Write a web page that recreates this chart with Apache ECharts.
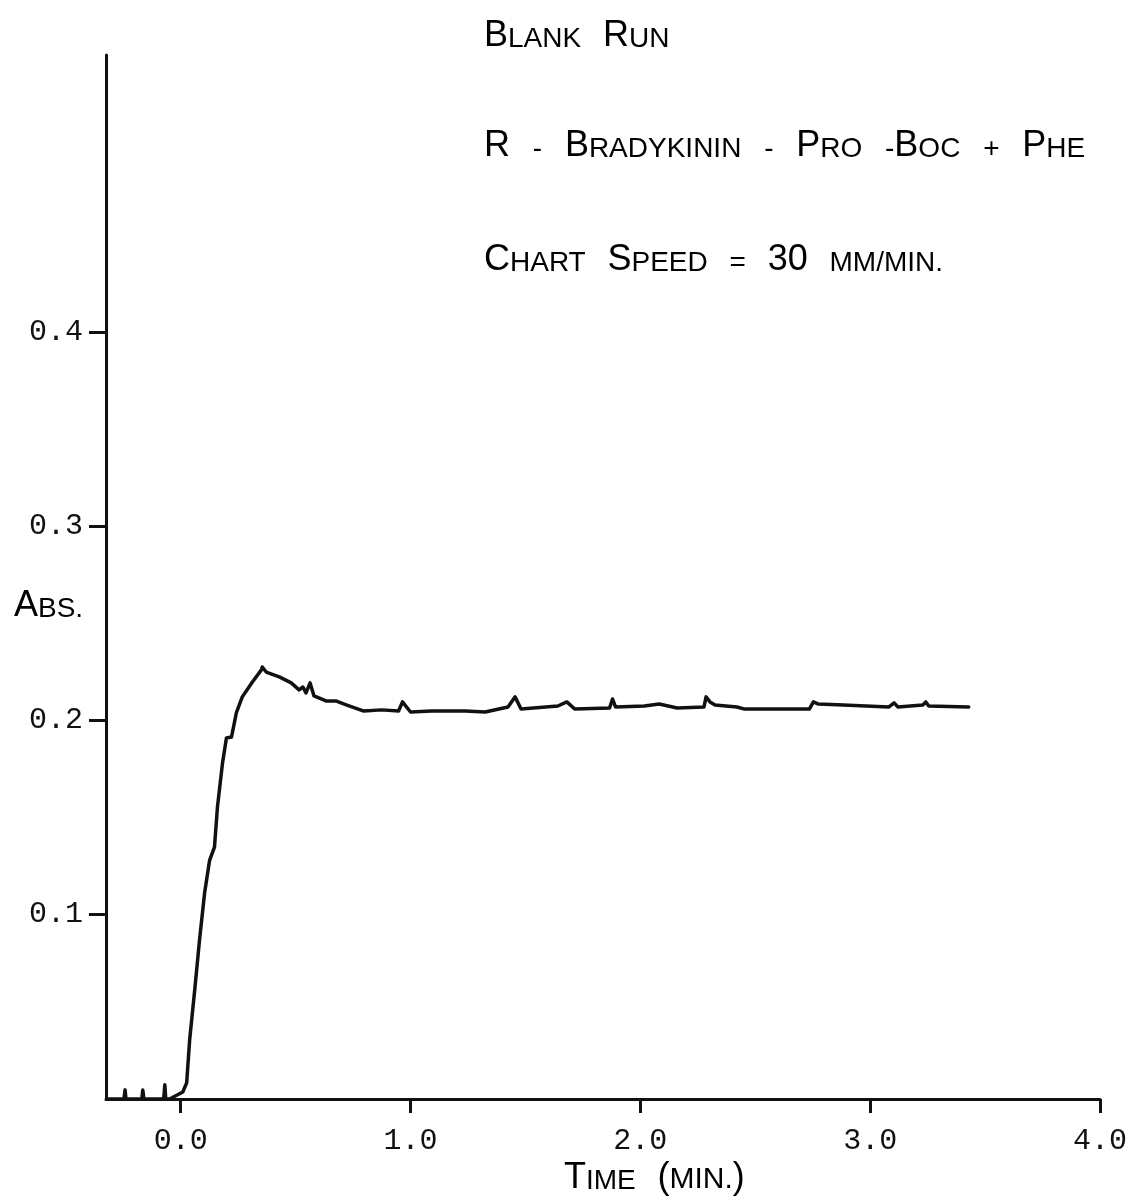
<!DOCTYPE html>
<html>
<head>
<meta charset="utf-8">
<script src="https://cdn.jsdelivr.net/npm/echarts@6/dist/echarts.min.js"></script>
<style>
html,body{margin:0;padding:0;background:#fff;}
#chart{width:1130px;height:1202px;}
</style>
</head>
<body>
<div id="chart"></div>
<script>
// ---- data ----
const timeMin = [
  -0.320, -0.247, -0.242, -0.238, -0.169, -0.165, -0.160, -0.074, -0.069, -0.065,
  -0.048, 0.009, 0.026, 0.039, 0.061, 0.082, 0.104, 0.126, 0.147, 0.160,
  0.182, 0.199, 0.221, 0.242, 0.268, 0.312, 0.351, 0.355, 0.372, 0.429,
  0.481, 0.515, 0.532, 0.545, 0.563, 0.580, 0.632, 0.675, 0.723, 0.797,
  0.874, 0.948, 0.965, 1.000, 1.091, 1.238, 1.325, 1.424, 1.455, 1.481,
  1.641, 1.680, 1.714, 1.866, 1.879, 1.892, 2.017, 2.082, 2.160, 2.277,
  2.286, 2.303, 2.325, 2.420, 2.450, 2.736, 2.753, 2.775, 2.883, 3.082,
  3.104, 3.121, 3.229, 3.242, 3.255, 3.429
];
const absorbance = [
  0.0046, 0.0046, 0.0093, 0.0046, 0.0046, 0.0093, 0.0046, 0.0046, 0.0119, 0.0046,
  0.0046, 0.0082, 0.0129, 0.0351, 0.0608, 0.0866, 0.1108, 0.1278, 0.1345, 0.1552,
  0.1778, 0.1907, 0.1912, 0.2036, 0.2119, 0.2196, 0.2258, 0.2273, 0.2247, 0.2222,
  0.2191, 0.2155, 0.2170, 0.2139, 0.2191, 0.2124, 0.2098, 0.2098, 0.2077, 0.2046,
  0.2052, 0.2046, 0.2093, 0.2041, 0.2046, 0.2046, 0.2041, 0.2067, 0.2119, 0.2057,
  0.2072, 0.2093, 0.2057, 0.2062, 0.2108, 0.2067, 0.2072, 0.2082, 0.2062, 0.2067,
  0.2119, 0.2093, 0.2077, 0.2067, 0.2057, 0.2057, 0.2093, 0.2082, 0.2077, 0.2067,
  0.2088, 0.2067, 0.2077, 0.2093, 0.2072, 0.2067
];
const xTicks = [0, 1, 2, 3, 4];
const yTicks = [0.1, 0.2, 0.3, 0.4];

const seriesData = timeMin.map((t, i) => [t, absorbance[i]]);

const SANS = '"Liberation Sans", "DejaVu Sans", sans-serif';
const MONO = '"Liberation Mono", "DejaVu Sans Mono", monospace';
const capRich = {
  c: { fontFamily: SANS, fontSize: 36, color: '#111', verticalAlign: 'bottom', lineHeight: 40 },
  s: { fontFamily: SANS, fontSize: 28, color: '#111', verticalAlign: 'bottom', lineHeight: 40, padding: [0, 0, 1, 0] },
  m: { fontFamily: SANS, fontSize: 30, color: '#111', verticalAlign: 'bottom', lineHeight: 40, padding: [0, 0, 1, 0] },
  g: { fontFamily: SANS, fontSize: 28, color: '#111', verticalAlign: 'bottom', lineHeight: 40, padding: [0, 7, 1, 7] },
  w: { fontFamily: SANS, fontSize: 28, color: '#111', verticalAlign: 'bottom', lineHeight: 40, padding: [0, 7.5, 1, 7.5] }
};

const chart = echarts.init(document.getElementById('chart'), null, { renderer: 'canvas' });
chart.setOption({
  animation: false,
  backgroundColor: '#fff',
  grid: { left: 106, right: 25, top: 55, bottom: 103, containLabel: false },
  xAxis: {
    type: 'value',
    min: -0.325,
    max: 4.0,
    axisLine: { show: true, lineStyle: { color: '#111', width: 3 } },
    axisTick: { show: true, customValues: xTicks, length: 14, inside: false, lineStyle: { color: '#111', width: 3 } },
    axisLabel: {
      customValues: xTicks,
      formatter: v => v.toFixed(1),
      fontFamily: MONO, fontSize: 30, color: '#111', margin: 27
    },
    splitLine: { show: false }
  },
  yAxis: {
    type: 'value',
    min: 0.0046,
    max: 0.5428,
    axisLine: { show: true, onZero: false, lineStyle: { color: '#111', width: 3 } },
    axisTick: { show: true, customValues: yTicks, length: 17, lineStyle: { color: '#111', width: 3 } },
    axisLabel: {
      customValues: yTicks,
      formatter: v => v.toFixed(1),
      fontFamily: MONO, fontSize: 30, color: '#111', margin: 23
    },
    splitLine: { show: false }
  },
  series: [{
    type: 'line',
    data: seriesData,
    showSymbol: false,
    symbol: 'none',
    smooth: false,
    lineStyle: { color: '#111', width: 3.5, join: 'round', cap: 'round' }
  }],
  graphic: [
    { type: 'text', left: 484, top: 18, style: { text: '{c|B}{s|LANK}{g| }{c|R}{s|UN}', rich: capRich } },
    { type: 'text', left: 484, top: 128, style: { text: '{c|R}{w| }{s|-}{w| }{c|B}{s|RADYKININ}{w| }{s|-}{w| }{c|P}{s|RO}{w| }{s|-}{c|B}{s|OC}{w| }{s|+}{w| }{c|P}{s|HE}', rich: capRich } },
    { type: 'text', left: 484, top: 242, style: { text: '{c|C}{s|HART}{g| }{c|S}{s|PEED}{g| }{s|=}{g| }{c|30}{g| }{s|MM/MIN.}', rich: capRich } },
    { type: 'text', left: 14, top: 588, style: { text: '{c|A}{s|BS.}', rich: capRich } },
    { type: 'text', left: 564, top: 1160, style: { text: '{c|T}{s|IME}{g| }{c|(}{m|MIN.}{c|)}', rich: capRich } }
  ]
});
</script>
</body>
</html>
